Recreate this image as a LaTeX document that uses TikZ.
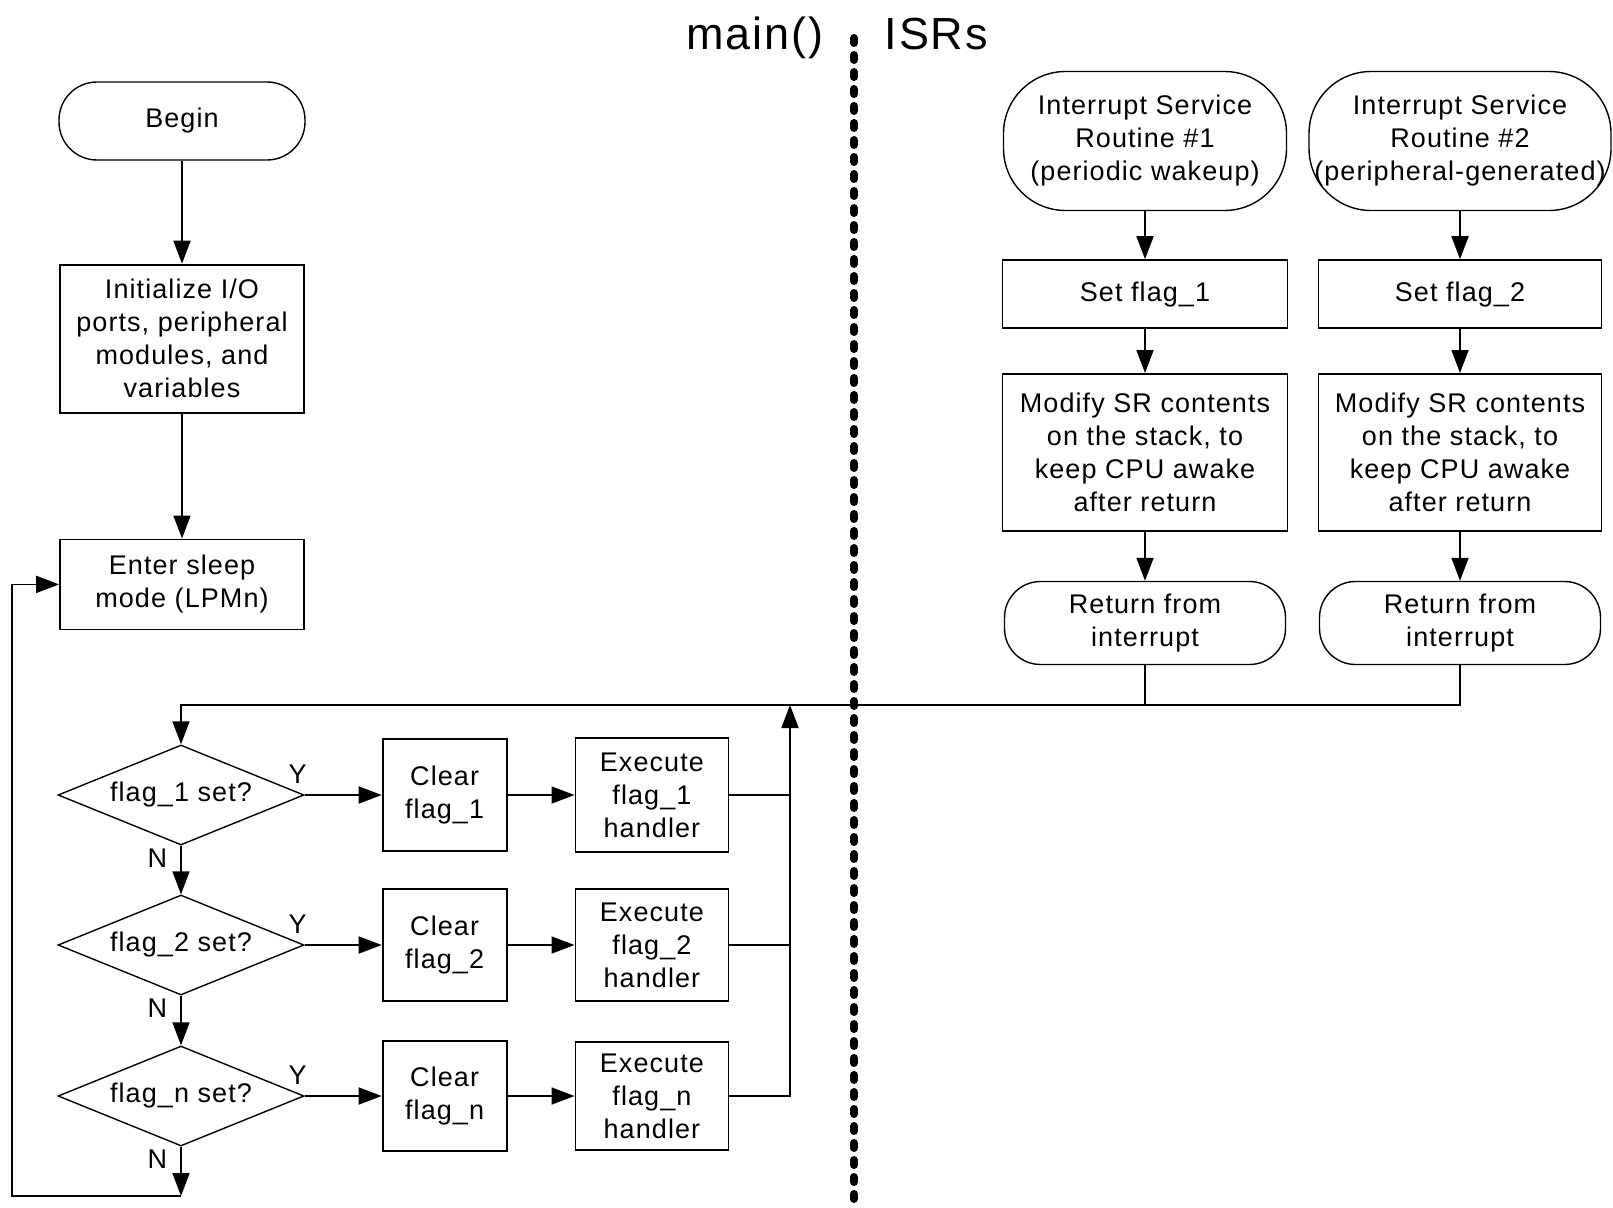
\documentclass[tikz,border=0pt]{standalone}
\usepackage{fontspec}
\setmainfont{Liberation Sans}[LetterSpace=4]
\usetikzlibrary{arrows.meta,positioning,shapes.geometric}

\begin{document}
\begin{tikzpicture}[x=1pt,y=1pt,>={Triangle[length=23pt,width=17pt]},line width=1.8pt,
  font=\fontsize{27}{33}\selectfont,
  box/.style={draw,align=center,inner sep=0pt,minimum width=244pt},
  term/.style={box,rounded corners=36pt,line width=1.4pt},
  dec/.style={draw,diamond,aspect=2.46,inner sep=0pt,minimum width=246pt,minimum height=100pt,line width=1.4pt},
  yn/.style={inner sep=2pt},
  big/.style={font=\fontsize{45}{54}\selectfont,inner sep=0pt}]
  \path[fill=white] (0,0) rectangle (1613,-1207);
  \useasboundingbox (0,0) rectangle (1613,-1207);

  \node[big,anchor=base east] (mainlbl) at (824,-50) {main()};
  \node[big,anchor=base west] (isrlbl) at (884,-50) {ISRs};
  \draw[line width=8pt,dash pattern=on 5pt off 12pt,line cap=round] (854,-38) -- (854,-1210);

  \node[term,rounded corners=38pt,minimum width=246pt,minimum height=78pt] (begin) at (182,-121) {Begin};
  \node[box,minimum height=148pt,below=103pt of begin] (init) {Initialize I/O\\ports, peripheral\\modules, and\\variables};
  \node[box,minimum height=90pt,below=125pt of init] (sleep) {Enter sleep\\mode (LPMn)};
  \draw[->] (begin) -- (init);
  \draw[->] (init) -- (sleep);

  \node[dec] (d1) at (181,-795) {flag\_1 set?};
  \node[dec] (d2) at (181,-945) {flag\_2 set?};
  \node[dec] (d3) at (181,-1096) {flag\_n set?};
  \node[box,minimum width=124pt,minimum height=112pt,right=77pt of d1] (c1) {Clear\\flag\_1};
  \node[box,minimum width=124pt,minimum height=112pt,right=77pt of d2] (c2) {Clear\\flag\_2};
  \node[box,minimum width=124pt,minimum height=110pt,right=77pt of d3] (c3) {Clear\\flag\_n};
  \node[box,minimum width=153pt,minimum height=114pt,right=67pt of c1] (e1) {Execute\\flag\_1\\handler};
  \node[box,minimum width=153pt,minimum height=112pt,right=67pt of c2] (e2) {Execute\\flag\_2\\handler};
  \node[box,minimum width=153pt,minimum height=108pt,right=67pt of c3] (e3) {Execute\\flag\_n\\handler};

  \coordinate (up) at (790,-705);
  \coordinate (loop) at (12,-1196);
  \draw[->] (d1.east) -- (c1.west) node[yn,pos=0,above=9pt,xshift=-7pt] {Y};
  \draw[->] (d2.east) -- (c2.west) node[yn,pos=0,above=9pt,xshift=-7pt] {Y};
  \draw[->] (d3.east) -- (c3.west) node[yn,pos=0,above=9pt,xshift=-7pt] {Y};
  \draw[->] (c1) -- (e1);
  \draw[->] (c2) -- (e2);
  \draw[->] (c3) -- (e3);
  \draw[->] (d1.south) -- (d2.north) node[yn,pos=0,anchor=north east,xshift=-11pt] {N};
  \draw[->] (d2.south) -- (d3.north) node[yn,pos=0,anchor=north east,xshift=-11pt] {N};
  \draw[->] (d3.south) -- (d3.south |- loop) node[yn,pos=0,anchor=north east,xshift=-11pt] {N};
  \draw[->] (d3.south |- loop) -- (loop) |- (sleep.west);
  \draw (e1.east) -- (e1.east -| up);
  \draw (e2.east) -- (e2.east -| up);
  \draw[->] (e3.east) -| (up);

  \node[term,rounded corners=62pt,minimum width=283pt,minimum height=139pt] (isr1) at (1145,-141) {Interrupt Service\\Routine \#1\\(periodic wakeup)};
  \node[box,minimum width=285pt,minimum height=68pt,below=48pt of isr1] (set1) {Set flag\_1};
  \node[box,minimum width=285pt,minimum height=157pt,below=44pt of set1] (mod1) {Modify SR contents\\on the stack, to\\keep CPU awake\\after return};
  \node[term,minimum width=281pt,minimum height=83pt,below=49pt of mod1] (ret1) {Return from\\interrupt};
  \node[term,rounded corners=62pt,minimum width=302pt,minimum height=139pt] (isr2) at (1460,-141) {Interrupt Service\\Routine \#2\\(peripheral-generated)};
  \node[box,minimum width=283pt,minimum height=68pt,below=48pt of isr2] (set2) {Set flag\_2};
  \node[box,minimum width=283pt,minimum height=157pt,below=44pt of set2] (mod2) {Modify SR contents\\on the stack, to\\keep CPU awake\\after return};
  \node[term,minimum width=281pt,minimum height=83pt,below=49pt of mod2] (ret2) {Return from\\interrupt};
  \draw[->] (isr1) -- (set1);
  \draw[->] (set1) -- (mod1);
  \draw[->] (mod1) -- (ret1);
  \draw[->] (isr2) -- (set2);
  \draw[->] (set2) -- (mod2);
  \draw[->] (mod2) -- (ret2);
  \draw (ret1.south) -- (ret1.south |- up);
  \draw[->] (ret2.south) |- (d1.north |- up) -- (d1.north);
\end{tikzpicture}
\end{document}
